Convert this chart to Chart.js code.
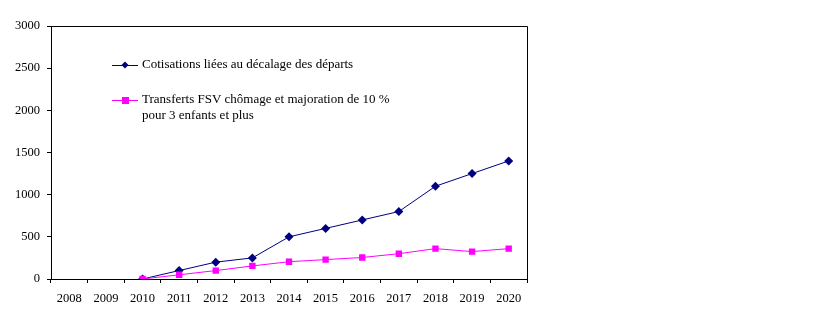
<!DOCTYPE html>
<html>
<head>
<meta charset="utf-8">
<script src="https://cdn.jsdelivr.net/npm/chart.js@4/dist/chart.umd.min.js"></script>
<style>
  html, body { margin: 0; padding: 0; background: #fff; }
  #wrap { width: 818px; height: 325px; position: relative; }
</style>
</head>
<body>
<div id="wrap"><canvas id="chart"></canvas></div>
<script>
const years = ['2008', '2009', '2010', '2011', '2012', '2013', '2014', '2015', '2016', '2017', '2018', '2019', '2020'];
const cotisations = [null, null, 0, 100, 200, 250, 500, 600, 700, 800, 1100, 1250, 1400];
const transferts = [null, null, 0, 50, 100, 155, 205, 230, 255, 300, 360, 325, 360];
const labelCotisations = 'Cotisations liées au décalage des départs';
const labelTransferts = ['Transferts FSV chômage et majoration de 10 %', 'pour 3 enfants et plus'];
const yTicks = [0, 500, 1000, 1500, 2000, 2500, 3000];

const FONT = '"Liberation Serif", "Times New Roman", serif';

// frame round the plot area + the legend drawn inside it
const framePlugin = {
    id: 'frame',
    afterDraw(chart) {
        const ctx = chart.ctx;
        const a = chart.chartArea;
        ctx.save();
        ctx.strokeStyle = '#000';
        ctx.lineWidth = 1;
        ctx.beginPath();
        ctx.moveTo(Math.round(a.left) + 0.5, Math.round(a.top) + 0.5);
        ctx.lineTo(Math.round(a.right) + 0.5, Math.round(a.top) + 0.5);
        ctx.lineTo(Math.round(a.right) + 0.5, Math.round(a.bottom) + 0.5);
        ctx.stroke();

        const items = [
            { ds: chart.data.datasets[0], y: 65, text: [labelCotisations] },
            { ds: chart.data.datasets[1], y: 100, text: labelTransferts }
        ];
        ctx.font = '13px ' + FONT;
        ctx.textBaseline = 'middle';
        items.forEach(it => {
            ctx.strokeStyle = it.ds.borderColor;
            ctx.lineWidth = 1;
            ctx.beginPath();
            ctx.moveTo(112, it.y + 0.5);
            ctx.lineTo(138, it.y + 0.5);
            ctx.stroke();
            ctx.fillStyle = it.ds.borderColor;
            ctx.beginPath();
            if (it.ds.pointStyle === 'rectRot') {
                ctx.moveTo(125, it.y - 3.5);
                ctx.lineTo(128.5, it.y);
                ctx.lineTo(125, it.y + 3.5);
                ctx.lineTo(121.5, it.y);
                ctx.closePath();
            } else {
                ctx.rect(122, it.y - 3, 7, 7);
            }
            ctx.fill();
            ctx.fillStyle = '#000';
            it.text.forEach((t, i) => ctx.fillText(t, 142, it.y + i * 16));
        });
        ctx.restore();
    }
};

new Chart(document.getElementById('chart'), {
    type: 'line',
    data: {
        labels: years,
        datasets: [
            {
                label: labelCotisations,
                data: cotisations,
                borderColor: '#000080',
                backgroundColor: '#000080',
                borderWidth: 1,
                pointStyle: 'rectRot',
                pointRadius: 4.5,
                pointBorderWidth: 0,
                tension: 0,
                order: 2
            },
            {
                label: labelTransferts.join(' '),
                data: transferts,
                borderColor: '#FF00FF',
                backgroundColor: '#FF00FF',
                borderWidth: 1,
                pointStyle: 'rect',
                pointRadius: 4.5,
                pointBorderWidth: 0,
                tension: 0,
                order: 1
            }
        ]
    },
    options: {
        responsive: true,
        maintainAspectRatio: false,
        animation: false,
        layout: { padding: { top: 26, right: 291, bottom: 0, left: 0 } },
        plugins: {
            legend: { display: false },
            tooltip: { enabled: false }
        },
        scales: {
            x: {
                offset: true,
                grid: { offset: true, drawOnChartArea: false, tickLength: 4, color: '#000' },
                border: { color: '#000', width: 1 },
                ticks: { color: '#000', font: { family: FONT, size: 12.5 }, padding: 8, maxRotation: 0, autoSkip: false },
                afterFit(scale) { scale.height = 46; }
            },
            y: {
                min: 0,
                max: 3000,
                afterBuildTicks(scale) { scale.ticks = yTicks.map(v => ({ value: v })); },
                grid: { drawOnChartArea: false, tickLength: 4, color: '#000' },
                border: { color: '#000', width: 1 },
                ticks: { color: '#000', font: { family: FONT, size: 12.5 }, padding: 7, callback: v => String(v) },
                afterFit(scale) { scale.width = 51; }
            }
        }
    },
    plugins: [framePlugin]
});
</script>
</body>
</html>
